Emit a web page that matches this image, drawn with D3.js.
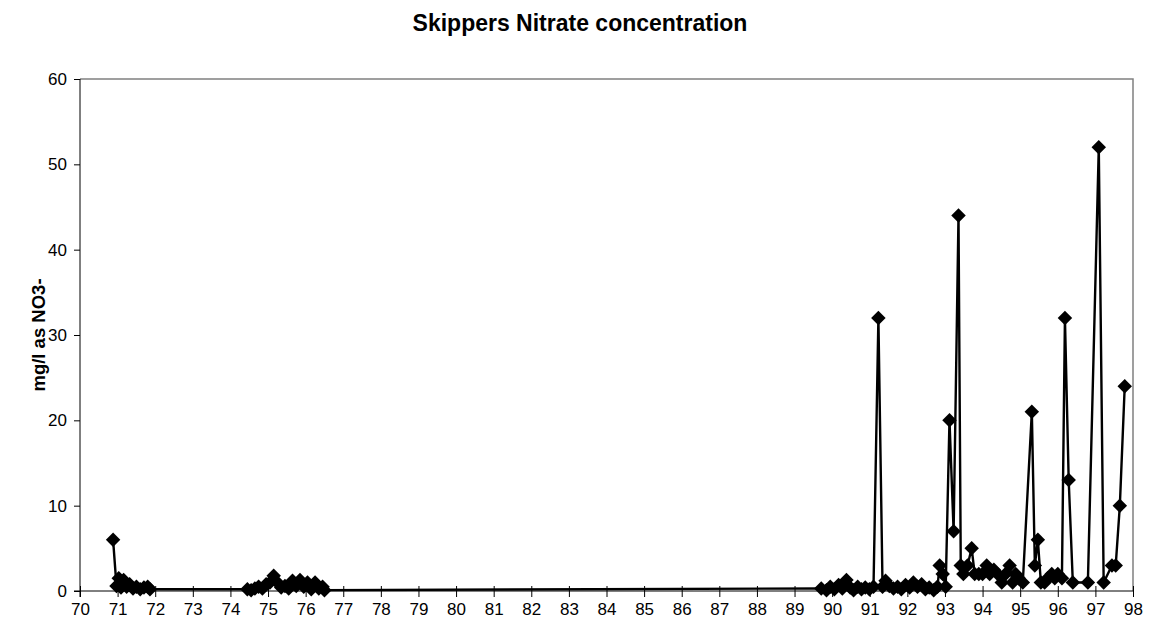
<!DOCTYPE html>
<html>
<head>
<meta charset="utf-8">
<script src="https://cdn.jsdelivr.net/npm/d3@7"></script>
<style>
  body { margin: 0; background: #fff; }
  svg { display: block; }
  text { font-family: "Liberation Sans", Arial, sans-serif; fill: #000; }
</style>
</head>
<body>
<svg id="chart" width="1153" height="632"></svg>
<script>
const title = "Skippers Nitrate concentration";
const yTitle = "mg/l as NO3-";
const xTicks = d3.range(70, 99);
const yTicks = [0, 10, 20, 30, 40, 50, 60];

// sample dates (decimal years, 19xx)
const years = [
  70.88, 70.97, 71.03, 71.09, 71.16, 71.24, 71.32, 71.41, 71.5, 71.6, 71.7, 71.8, 71.86,
  74.45, 74.55, 74.65, 74.75, 74.85, 74.95, 75.05, 75.15, 75.25, 75.35, 75.45, 75.55, 75.65,
  75.75, 75.85, 75.95, 76.05, 76.15, 76.25, 76.35, 76.45, 76.5,
  89.71, 89.85, 89.95, 90.06, 90.17, 90.27, 90.38, 90.48, 90.57, 90.68, 90.78, 90.88, 90.99,
  91.10, 91.23, 91.34, 91.42, 91.52, 91.63, 91.74, 91.84, 91.95, 92.06, 92.16, 92.27, 92.38,
  92.48, 92.58, 92.70, 92.80, 92.86, 92.94, 93.02, 93.12, 93.23, 93.36, 93.42, 93.49, 93.60,
  93.71, 93.79, 93.90, 94.00, 94.11, 94.19, 94.30, 94.40, 94.51, 94.61, 94.72, 94.80, 94.88,
  94.96, 95.07, 95.31, 95.39, 95.47, 95.55, 95.65, 95.73, 95.84, 95.92, 96.00, 96.11, 96.19,
  96.29, 96.40, 96.80, 97.09, 97.22, 97.44, 97.54, 97.65, 97.78
];
// nitrate (mg/l as NO3-)
const nitrate = [
  6, 0.6, 1.5, 0.4, 1.3, 0.5, 0.8, 0.3, 0.5, 0.2, 0.4, 0.5, 0.2,
  0.2, 0.1, 0.3, 0.5, 0.3, 0.8, 1.0, 1.8, 1.0, 0.4, 0.6, 0.3, 1.2,
  0.6, 1.3, 0.5, 1.0, 0.2, 1.0, 0.3, 0.5, 0.1,
  0.3, 0.1, 0.5, 0.2, 0.7, 0.3, 1.3, 0.4, 0.1, 0.5, 0.2, 0.4, 0.2,
  0.5, 32, 0.5, 1.2, 0.6, 0.3, 0.5, 0.2, 0.7, 0.4, 1.0, 0.5, 0.8,
  0.2, 0.4, 0.1, 0.5, 3, 2, 0.5, 20, 7, 44, 3, 2, 3,
  5, 2, 2, 2, 3, 2, 2.5, 2, 1, 2, 3, 1, 2,
  1.5, 1, 21, 3, 6, 1, 1, 1.5, 2, 1.5, 2, 1.5, 32,
  13, 1, 1, 52, 1, 3, 3, 10, 24
];

const svg = d3.select("#chart");
const L = 80, R = 1133, T = 79, B = 591;
const x = d3.scaleLinear().domain([70, 98]).range([L, R]);
const y = d3.scaleLinear().domain([0, 60]).range([B, T]);

// title
svg.append("text").attr("x", 580).attr("y", 31).attr("text-anchor", "middle")
  .style("font-size", "23px").style("font-weight", "bold").text(title);

// plot area border (gray)
svg.append("path")
  .attr("d", `M${L},${T}H${R}V${B}`)
  .attr("fill", "none").attr("stroke", "#808080").attr("stroke-width", 1.5);

// y axis
const yAxis = svg.append("g").attr("transform", `translate(${L},0)`)
  .call(d3.axisLeft(y).tickValues(yTicks).tickSize(6).tickPadding(7).tickFormat(d3.format("d")));
yAxis.select(".domain").attr("stroke", "#000").attr("d", `M0,${T}V${B + 6}`);
yAxis.selectAll(".tick line").attr("stroke", "#000");
yAxis.selectAll("text").style("font-size", "17px").style("font-family", "Liberation Sans, Arial, sans-serif");

// x axis (cross ticks)
const xAxis = svg.append("g").attr("transform", `translate(0,${B})`)
  .call(d3.axisBottom(x).tickValues(xTicks).tickSize(6).tickPadding(6).tickFormat(d3.format("d")));
xAxis.select(".domain").attr("stroke", "#000").attr("d", `M${L - 6},0H${R}`);
xAxis.selectAll(".tick line").attr("stroke", "#000").attr("y1", -5).attr("y2", 6);
xAxis.selectAll("text").style("font-size", "17px").style("font-family", "Liberation Sans, Arial, sans-serif");

// y title
svg.append("text")
  .attr("transform", `translate(45,${(T + B) / 2}) rotate(-90)`)
  .attr("text-anchor", "middle")
  .style("font-size", "18.5px").style("font-weight", "bold").text(yTitle);

const data = years.map((d, i) => ({ x: d, y: nitrate[i] }));

// line
svg.append("path").datum(data)
  .attr("fill", "none").attr("stroke", "#000").attr("stroke-width", 2.4)
  .attr("stroke-linejoin", "round")
  .attr("d", d3.line().x(d => x(d.x)).y(d => y(d.y)));

// diamond markers
const diamond = {
  draw(ctx, size) {
    const r = Math.sqrt(size) / 2;
    ctx.moveTo(0, -r); ctx.lineTo(r, 0); ctx.lineTo(0, r); ctx.lineTo(-r, 0); ctx.closePath();
  }
};
svg.append("g").selectAll("path").data(data).enter().append("path")
  .attr("transform", d => `translate(${x(d.x)},${y(d.y)})`)
  .attr("d", d3.symbol().type(diamond).size(210))
  .attr("fill", "#000");
</script>
</body>
</html>
